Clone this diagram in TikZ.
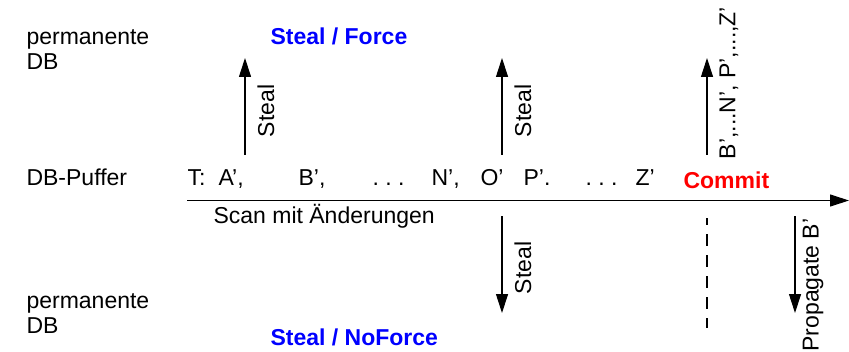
\documentclass[tikz,border=0pt]{standalone}
\usepackage{fontspec}
\setmainfont{Liberation Sans}
\usetikzlibrary{arrows.meta, positioning}
\definecolor{cblue}{HTML}{0000FF}
\definecolor{cred}{HTML}{FF0000}
\tikzset{
  every picture/.style={font=\fontsize{11.5}{12.5}\selectfont, line width=0.55pt},
  txt/.style={anchor=base west, inner sep=0pt},
  title/.style={txt, font=\fontsize{11.5}{12.5}\selectfont\bfseries, text=#1},
  title/.default=cblue,
  arrow/.style={-{Triangle[length=9.5pt, width=6pt]}},
  side/.style={rotate=90, inner sep=0pt},
}

\begin{document}
\begin{tikzpicture}[x=0.5pt, y=-0.5pt]
  \useasboundingbox (0,0) rectangle (849,352);
  % upper half: permanent DB, Steal / Force
  \node[txt] (permtop) at (26,45) {permanente};
  \node[txt] (dbtop) at (26,70) {DB};
  \node[title] (force) at (270,45) {Steal / Force};
  \coordinate (up1a) at (245,155);
  \coordinate (up1b) at (245,58);
  \coordinate (up2a) at (502,155);
  \coordinate (up2b) at (502,58);
  \coordinate (up3a) at (707,155);
  \coordinate (up3b) at (707,58);
  \draw[arrow] (up1a) -- (up1b);
  \draw[arrow] (up2a) -- (up2b);
  \draw[arrow] (up3a) -- (up3b);
  \node[side] (steal1) at (266,111) {Steal};
  \node[side] (steal2) at (523,111) {Steal};
  \node[side] (flush) at (729,83) {B’,...N’, P’,...,Z’};
  % buffer row with the scan
  \node[txt] (puffer) at (26,185) {DB-Puffer};
  \node[txt] (t) at (187,185) {T:};
  \node[txt] (a) at (218,185) {A’,};
  \node[txt] (b) at (298,185) {B’,};
  \node[txt] (dots1) at (372,185) {.\ .\ .};
  \node[txt] (n) at (431,185) {N’,};
  \node[txt] (o) at (480,185) {O’};
  \node[txt] (p) at (523,185) {P’.};
  \node[txt] (dots2) at (585,185) {.\ .\ .};
  \node[txt] (z) at (635,185) {Z’};
  \node[title=cred] (commit) at (683,188) {Commit};
  \coordinate (scanstart) at (187,200.5);
  \coordinate (scanend) at (849,200.5);
  \draw[arrow] (scanstart) -- (scanend);
  \node[txt] (scan) at (213,223) {Scan mit Änderungen};
  % lower half: permanent DB, Steal / NoForce
  \coordinate (down1a) at (502,216);
  \coordinate (down1b) at (502,313);
  \coordinate (dasha) at (707,218);
  \coordinate (dashb) at (707,328);
  \coordinate (down2a) at (795,216);
  \coordinate (down2b) at (795,313);
  \draw[arrow] (down1a) -- (down1b);
  \draw[dash pattern=on 6pt off 4.5pt, dash phase=2.5pt] (dasha) -- (dashb);
  \draw[arrow] (down2a) -- (down2b);
  \node[side] (steal3) at (523,268) {Steal};
  \node[side] (propagate) at (813,285) {Propagate B’};
  \node[txt] (permbot) at (26,308) {permanente};
  \node[txt] (dbbot) at (26,333) {DB};
  \node[title] (noforce) at (270,345) {Steal / NoForce};
\end{tikzpicture}
\end{document}
